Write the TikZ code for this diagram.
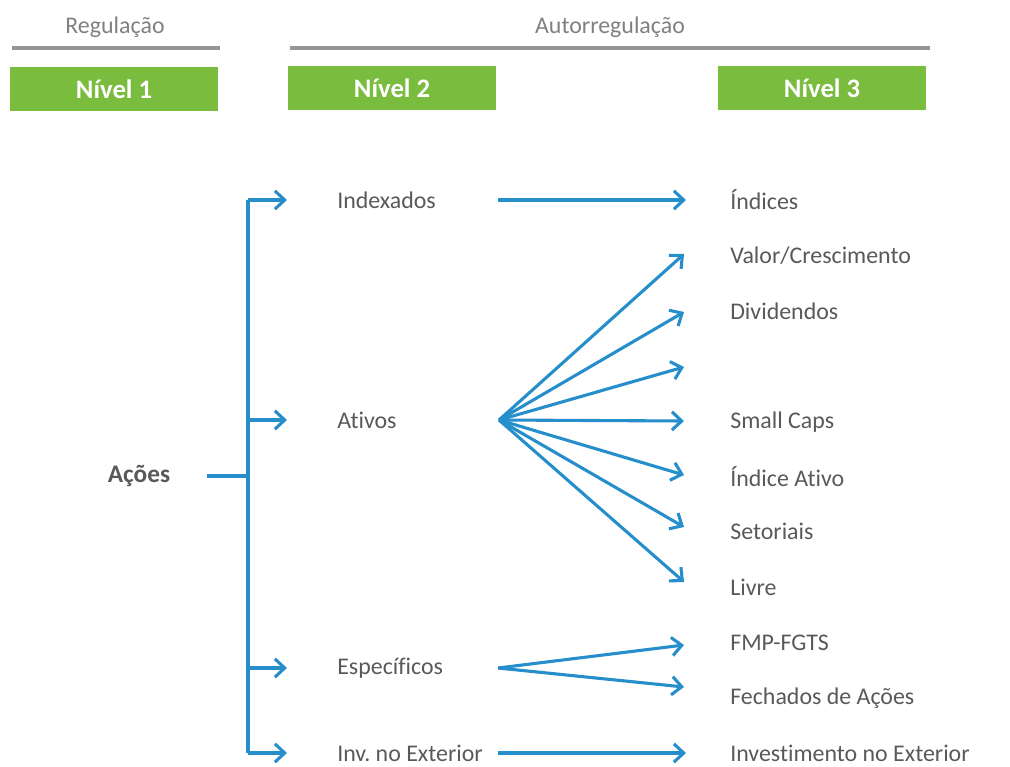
\documentclass[tikz,border=0pt]{standalone}
\usepackage{fontspec}
\setmainfont{Carlito}[Ligatures=NoCommon]
\frenchspacing
\usetikzlibrary{arrows.meta,calc}
\definecolor{verde}{RGB}{122,188,62}
\definecolor{azul}{RGB}{38,143,203}
\definecolor{cinza}{RGB}{89,89,89}
\definecolor{cinzaclaro}{RGB}{128,128,128}
\definecolor{barra}{RGB}{150,150,150}
\tikzset{
  seta/.style={azul,line width=2.2pt,-{Straight Barb[length=7pt,width=13pt,line width=2.2pt]}},
  liga/.style={azul,line width=2.2pt},
  nivel/.style={fill=verde,text=white,font=\fontsize{19}{22}\selectfont\bfseries,minimum width=5.2cm,minimum height=1.12cm,inner sep=0pt},
  rotulo/.style={text=cinza,font=\fontsize{17}{20}\selectfont,anchor=west,inner sep=0pt},
  topo/.style={text=cinzaclaro,font=\fontsize{17}{20}\selectfont,inner sep=0pt}
}
\begin{document}
\begin{tikzpicture}[x=0.025cm,y=-0.025cm]
\useasboundingbox (0,0) rectangle (1010,767);

% cabecalho
\node[topo] (reg) at (115,27) {Regulação};
\node[topo] (auto) at (610,27) {Autorregulação};
\draw[barra,line width=3pt] (12,48) -- (220,48);
\draw[barra,line width=3pt] (290,48) -- (930,48);

\node[nivel] (n1) at (114,89) {Nível 1};
\node[nivel] (n2) at (392,88) {Nível 2};
\node[nivel] (n3) at (822,88) {Nível 3};

% nivel 1
\node[text=cinza,font=\fontsize{18}{20}\selectfont\bfseries,inner sep=0pt] (acoes) at (139,476) {Ações};

% nivel 2
\node[rotulo] (idx) at (337,200) {Indexados};
\node[rotulo] (ativos) at (337,420) {Ativos};
\node[rotulo] (espec) at (337,668) {Específicos};
\node[rotulo] (inv) at (337,753) {Inv. no Exterior};

% nivel 3
\node[rotulo] (indices) at (730,200) {Índices};
\node[rotulo] (valor) at (730,256) {Valor/Crescimento};
\node[rotulo] (divid) at (730,311) {Dividendos};
\coordinate (vazio) at (730,367);
\node[rotulo] (small) at (730,422) {Small Caps};
\node[rotulo] (indat) at (730,477) {Índice Ativo};
\node[rotulo] (setor) at (730,531) {Setoriais};
\node[rotulo] (livre) at (730,587) {Livre};
\node[rotulo] (fmp) at (730,643) {FMP-FGTS};
\node[rotulo] (fech) at (730,698) {Fechados de Ações};
\node[rotulo] (invext) at (730,753) {Investimento no Exterior};

% chave
\coordinate (saida) at (207,476);
\coordinate (tronco) at (248,476);
\draw[liga] (saida) -- (tronco);
\draw[liga] (248,200) -- (248,753);
\foreach \n in {idx,ativos,espec,inv}
  \draw[seta] (248,0 |- \n.west) -- ($(\n.west)+(-50,0)$);

% setas nivel 2 -> 3
\coordinate (fidx) at (498,200);
\coordinate (fativ) at (499,420);
\coordinate (fesp) at (498,668);
\coordinate (finv) at (498,753);
\draw[seta] (fidx) -- ($(indices.west)+(-44,0)$);
\foreach \n/\dy in {valor/-2,divid/1,vazio/0,small/-1,indat/-2,setor/-4,livre/-5}
  \draw[seta] (fativ) -- ($(\n.west)+(-46,\dy)$);
\draw[seta] (fesp) -- ($(fmp.west)+(-46,2)$);
\draw[seta] (fesp) -- ($(fech.west)+(-46,-11)$);
\draw[seta] (finv) -- ($(invext.west)+(-44,0)$);

\end{tikzpicture}
\end{document}
